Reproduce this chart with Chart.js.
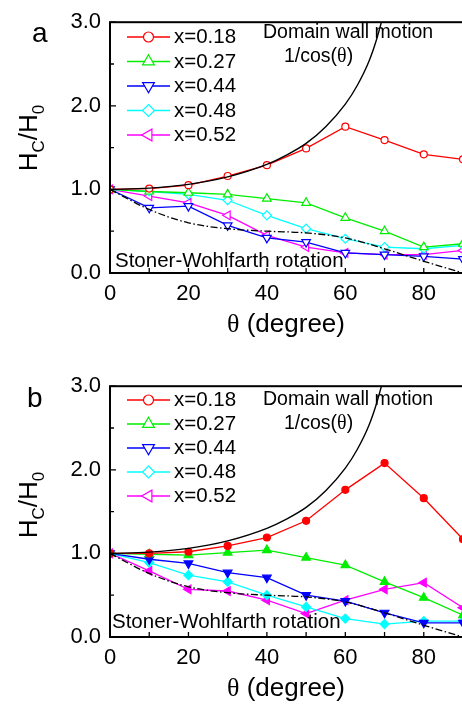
<!DOCTYPE html>
<html>
<head>
<meta charset="utf-8">
<script src="https://cdn.jsdelivr.net/npm/chart.js@4.4.1/dist/chart.umd.min.js"></script>
<style>
  html, body { margin: 0; padding: 0; background: #fff; overflow: hidden; }
  body { width: 462px; height: 704px; position: relative; }
  .panel { position: absolute; left: 0; width: 472px; height: 352px; }
  #panelA { top: 0; }
  #panelB { top: 364px; }
</style>
</head>
<body>
<div class="panel" id="panelA"><canvas id="chartA" width="472" height="352"></canvas></div>
<div class="panel" id="panelB"><canvas id="chartB" width="472" height="352"></canvas></div>
<script>
// angle grid of the measurements (degree)
const angles = [0, 10, 20, 30, 40, 50, 60, 70, 80, 90];
const seriesLabels = ["x=0.18", "x=0.27", "x=0.44", "x=0.48", "x=0.52"];
const seriesColors = ["#ff0000", "#00ee00", "#0000ff", "#00ffff", "#ff00ff"];

// panel a : Hc/H0
const a018 = [1.00, 1.01, 1.05, 1.16, 1.29, 1.49, 1.75, 1.59, 1.42, 1.36];
const a027 = [1.00, 0.975, 0.96, 0.94, 0.89, 0.84, 0.66, 0.50, 0.31, 0.35];
const a044 = [1.00, 0.78, 0.80, 0.57, 0.42, 0.37, 0.24, 0.22, 0.20, 0.165];
const a048 = [1.00, 0.975, 0.94, 0.87, 0.69, 0.53, 0.41, 0.31, 0.29, 0.33];
const a052 = [1.00, 0.92, 0.84, 0.69, 0.45, 0.31, 0.24, 0.22, 0.22, 0.27];

// panel b : Hc/H0
const b018 = [1.00, 1.00, 1.02, 1.09, 1.19, 1.39, 1.76, 2.08, 1.66, 1.17];
const b027 = [1.00, 0.99, 0.98, 1.01, 1.04, 0.95, 0.86, 0.66, 0.47, 0.26];
const b044 = [1.00, 0.93, 0.88, 0.77, 0.71, 0.50, 0.43, 0.29, 0.17, 0.17];
const b048 = [1.00, 0.89, 0.74, 0.66, 0.50, 0.36, 0.22, 0.155, 0.19, 0.19];
const b052 = [1.00, 0.79, 0.57, 0.55, 0.44, 0.28, 0.44, 0.57, 0.65, 0.35];

// reference curves
const dwAngles = [0, 10, 20, 30, 40, 45, 50, 55, 60, 63, 66, 68, 70];
const dwValues = [1.00, 1.015, 1.06, 1.15, 1.30, 1.41, 1.55, 1.75, 2.02, 2.24, 2.53, 2.80, 3.14];
const swValues = [1.00, 0.76, 0.60, 0.53, 0.50, 0.48, 0.42, 0.29, 0.14, 0.00];

const xTicks = [0, 20, 40, 60, 80];
const yTicks = [0, 1, 2, 3];

const markerStyle = ["circle", "triangle", "triangle", "rectRot", "triangle"];
const markerRot = [0, 0, 180, 0, -90];
const markerSize = [3.5, 5, 5, 4.5, 5];
const legendSize = [5, 6.8, 6.8, 6, 6.8];

const SANS = "'Liberation Sans', Arial, sans-serif";
const SERIF = "'Liberation Serif', 'Times New Roman', serif";

function pts(xs, ys) {
  return xs.map((x, i) => ({ x: x, y: ys[i] }));
}

function buildDatasets(values, filled) {
  const sets = [
    {
      label: "1/cos", data: pts(dwAngles, dwValues),
      borderColor: "#000", borderWidth: 1.4, pointRadius: 0,
      cubicInterpolationMode: "monotone"
    },
    {
      label: "SW", data: pts(angles, swValues),
      borderColor: "#000", borderWidth: 1.3, pointRadius: 0,
      borderDash: [7, 2.5, 1.5, 2.5], cubicInterpolationMode: "monotone"
    }
  ];
  values.forEach((v, i) => {
    sets.push({
      label: seriesLabels[i], data: pts(angles, v), inLegend: true,
      borderColor: seriesColors[i], borderWidth: 1.3,
      pointStyle: markerStyle[i], pointRotation: markerRot[i],
      pointRadius: markerSize[i], pointBorderWidth: 1.2,
      pointBorderColor: seriesColors[i],
      pointBackgroundColor: filled ? seriesColors[i] : "#fff"
    });
  });
  return sets;
}

function runs(ctx, parts, x, y, align) {
  let total = 0;
  parts.forEach(p => { ctx.font = p[1]; p.w = ctx.measureText(p[0]).width; total += p.w; });
  let cx = align === "center" ? x - total / 2 : x;
  parts.forEach(p => { ctx.font = p[1]; ctx.fillText(p[0], cx, y + (p[2] || 0)); cx += p.w; });
}

function marker(ctx, style, rot, r, x, y) {
  ctx.beginPath();
  if (style === "circle") {
    ctx.arc(x, y, r, 0, Math.PI * 2);
  } else if (style === "rectRot") {
    ctx.moveTo(x, y - r); ctx.lineTo(x + r, y); ctx.lineTo(x, y + r); ctx.lineTo(x - r, y);
    ctx.closePath();
  } else {
    let ang = rot * Math.PI / 180;
    for (let k = 0; k < 3; k++) {
      const px = x + Math.sin(ang) * r, py = y - Math.cos(ang) * r;
      if (k === 0) ctx.moveTo(px, py); else ctx.lineTo(px, py);
      ang += Math.PI * 2 / 3;
    }
    ctx.closePath();
  }
  ctx.fill();
  ctx.stroke();
}

// frame, inward ticks, legend, titles and notes
const decor = {
  id: "decor",
  afterDatasetsDraw(chart, args, o) {
    const ctx = chart.ctx, a = chart.chartArea;
    const xs = chart.scales.x, ys = chart.scales.y;
    ctx.save();
    ctx.strokeStyle = "#000";
    ctx.lineWidth = 1.3;
    ctx.beginPath();
    xs.ticks.forEach(t => {
      const px = xs.getPixelForValue(t.value);
      ctx.moveTo(px, a.bottom); ctx.lineTo(px, a.bottom - 5);
    });
    ys.ticks.forEach(t => {
      const py = ys.getPixelForValue(t.value);
      const len = Number.isInteger(t.value) ? 6 : 4;
      ctx.moveTo(a.left, py); ctx.lineTo(a.left + len, py);
    });
    ctx.stroke();
    ctx.lineWidth = 2;
    ctx.strokeRect(a.left, a.top, a.right - a.left, a.bottom - a.top);

    // legend
    const sets = chart.data.datasets.filter(d => d.inLegend);
    ctx.textBaseline = "middle";
    ctx.textAlign = "left";
    sets.forEach((d, i) => {
      const ry = o.legendTop + o.legendStep * i;
      ctx.strokeStyle = d.borderColor;
      ctx.lineWidth = 1.3;
      ctx.beginPath(); ctx.moveTo(127, ry); ctx.lineTo(170, ry); ctx.stroke();
      ctx.fillStyle = "#fff";
      ctx.lineWidth = 1.2;
      marker(ctx, markerStyle[i], markerRot[i], legendSize[i], 148.5, ry);
      ctx.fillStyle = "#000";
      ctx.font = "20.5px " + SANS;
      ctx.fillText(d.label, 174, ry + 0.5);
    });

    ctx.textBaseline = "alphabetic";
    ctx.fillStyle = "#000";
    runs(ctx, [["Domain wall motion", "19.5px " + SANS]], 263, o.dwY, "left");
    runs(ctx, [["1/cos(", "19.5px " + SANS], ["\u03b8", "20px " + SERIF], [")", "19.5px " + SANS]], 284, o.dwY + 24, "left");
    runs(ctx, [["Stoner-Wohlfarth rotation", "20.5px " + SANS]], o.swX, o.swY, "left");

    // panel letter
    runs(ctx, [[o.letter, "28px " + SANS]], o.letterX, o.letterY, "left");

    // axis titles
    runs(ctx, [["\u03b8", "26px " + SERIF], [" (degree)", "26px " + SANS]], (a.left + 462) / 2, 332, "center");
    ctx.translate(28, o.yTitleY);
    ctx.rotate(-Math.PI / 2);
    runs(ctx, [["H", "26px " + SANS], ["C", "17px " + SANS, 7], ["/H", "26px " + SANS], ["0", "17px " + SANS, 7]], 0, 9, "center");
    ctx.restore();
  }
};

function makeChart(id, values, filled, decorOpts) {
  return new Chart(document.getElementById(id), {
    type: "line",
    data: { datasets: buildDatasets(values, filled) },
    plugins: [decor],
    options: {
      responsive: false,
      animation: false,
      layout: { padding: { top: 20, right: 9, left: 0, bottom: 0 } },
      plugins: { legend: { display: false }, tooltip: { enabled: false }, decor: decorOpts },
      scales: {
        x: {
          type: "linear", min: 0, max: 90,
          grid: { display: false, drawTicks: false }, border: { display: false },
          afterFit: s => { s.height = 79; },
          ticks: {
            stepSize: 10, padding: 8, color: "#000",
            font: { family: SANS, size: 22 },
            callback: v => xTicks.includes(v) ? String(v) : ""
          }
        },
        y: {
          min: 0, max: 3,
          grid: { display: false, drawTicks: false }, border: { display: false },
          afterFit: s => { s.width = 110; },
          ticks: {
            stepSize: 0.5, padding: 9, color: "#000",
            font: { family: SANS, size: 22 },
            callback: v => yTicks.includes(v) ? v.toFixed(1) : ""
          }
        }
      }
    }
  });
}

makeChart("chartA", [a018, a027, a044, a048, a052], false,
  { letter: "a", letterX: 32, letterY: 42, legendTop: 37, legendStep: 24.5, dwY: 38, swX: 115, swY: 267, yTitleY: 138 });
makeChart("chartB", [b018, b027, b044, b048, b052], true,
  { letter: "b", letterX: 27, letterY: 43, legendTop: 36, legendStep: 24, dwY: 41, swX: 112, swY: 264, yTitleY: 141 });
</script>
</body>
</html>
